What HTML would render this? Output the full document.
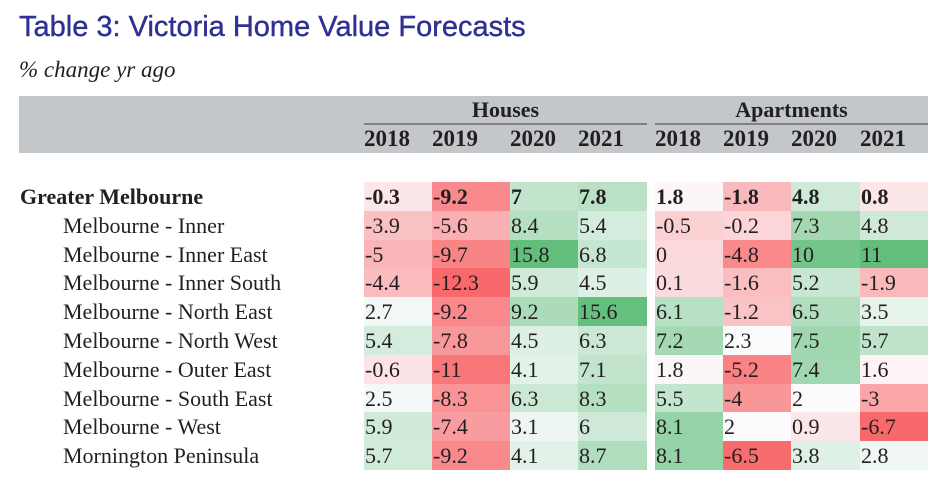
<!DOCTYPE html>
<html><head><meta charset="utf-8"><style>
body{margin:0;width:938px;height:477px;background:#fff;position:relative;overflow:hidden;font-family:"Liberation Serif",serif;color:#231f20}
.abs{position:absolute}
#title{left:19px;top:11px;font:29px "Liberation Sans",sans-serif;color:#2e3192;white-space:nowrap;-webkit-text-stroke:0.4px #2e3192}
#sub{left:19px;top:57px;font-style:italic;font-size:23px}
#band{left:19px;top:96px;width:909px;height:57px;background:#c4c7ca}
.grp{font-weight:bold;font-size:22px;text-align:center;top:97px}
.rule{height:2px;background:#7d7f82;top:123px}
.yr{font-weight:bold;font-size:23px;top:126px}
.lbl{font-size:22px;white-space:nowrap}
.cell{font-size:22px;line-height:30px;box-sizing:border-box;padding-left:1px;white-space:nowrap}
</style></head><body>
<div id="title" class="abs">Table 3: Victoria Home Value Forecasts</div>
<div id="sub" class="abs">% change yr ago</div>
<div id="band" class="abs"></div>
<div class="abs grp" style="left:364px;width:283px">Houses</div>
<div class="abs grp" style="left:655px;width:273px">Apartments</div>
<div class="abs rule" style="left:364px;width:283px"></div>
<div class="abs rule" style="left:655px;width:273px"></div>
<script>
const years=["2018","2019","2020","2021"];
const regions=["Greater Melbourne","Melbourne - Inner","Melbourne - Inner East","Melbourne - Inner South","Melbourne - North East","Melbourne - North West","Melbourne - Outer East","Melbourne - South East","Melbourne - West","Mornington Peninsula"];
const houses=[[-0.3,-9.2,7,7.8],[-3.9,-5.6,8.4,5.4],[-5,-9.7,15.8,6.8],[-4.4,-12.3,5.9,4.5],[2.7,-9.2,9.2,15.6],[5.4,-7.8,4.5,6.3],[-0.6,-11,4.1,7.1],[2.5,-8.3,6.3,8.3],[5.9,-7.4,3.1,6],[5.7,-9.2,4.1,8.7]];
const apartments=[[1.8,-1.8,4.8,0.8],[-0.5,-0.2,7.3,4.8],[0,-4.8,10,11],[0.1,-1.6,5.2,-1.9],[6.1,-1.2,6.5,3.5],[7.2,2.3,7.5,5.7],[1.8,-5.2,7.4,1.6],[5.5,-4,2,-3],[8.1,2,0.9,-6.7],[8.1,-6.5,3.8,2.8]];
const hx=[364,432,510,578,647], ax=[655,723,791,860,928];
const top0=182, rh=28.8;
const body=document.body;
function mix(a,b,t){return a.map((v,i)=>Math.round(v+(b[i]-v)*t));}
function colorFn(data){
  const flat=data.flat();const mn=Math.min(...flat),mx=Math.max(...flat),mid=(mn+mx)/2;
  const R=[248,105,107],W=[252,252,255],G=[99,190,123];
  return v=>{let c=v<mid?mix(W,R,(mid-v)/(mid-mn)):mix(W,G,(v-mid)/(mx-mid));return `rgb(${c})`;};
}
function yearRow(xs,grp){
  years.forEach((y,i)=>{const d=document.createElement('div');d.className='abs yr';d.style.left=xs[i]+'px';d.textContent=y;
  
  
  body.appendChild(d);});
}
yearRow(hx,'houses');yearRow(ax,'apartments');
function drawGroup(data,xs,grp){
  const cf=colorFn(data);
  data.forEach((row,r)=>row.forEach((v,c)=>{
    const d=document.createElement('div');d.className='abs cell';
    d.style.left=xs[c]+'px';d.style.width=(xs[c+1]-xs[c])+'px';
    d.style.top=(top0+r*rh)+'px';d.style.height=rh+'px';d.style.background=cf(v);
    if(r===0){d.style.fontWeight='bold';}
    d.textContent=String(v);
    
    
    body.appendChild(d);
  }));
}
drawGroup(houses,hx,'houses');drawGroup(apartments,ax,'apartments');
regions.forEach((n,r)=>{
  const d=document.createElement('div');d.className='abs lbl cell';
  d.style.left=(r===0?19:62)+'px';d.style.top=(top0+r*rh)+'px';
  if(r===0){d.style.fontWeight='bold';}
  d.textContent=n;
  
  
  body.appendChild(d);
});
</script>
</body></html>
